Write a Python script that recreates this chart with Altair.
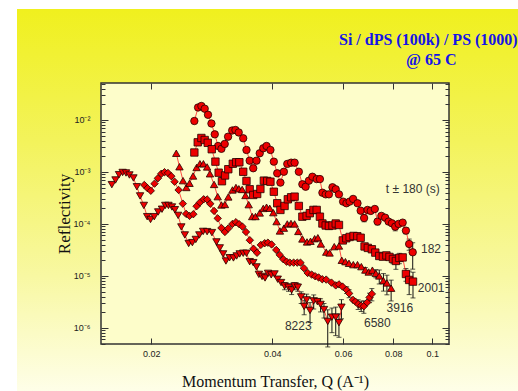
import altair as alt
import pandas as pd

# ---------------- data ----------------
series_names = ["182", "2001", "3916", "6580", "8223"]
series_shapes = ["circle", "square", "triangle-up", "diamond", "triangle-down"]

q_182 = [0.0256, 0.02615, 0.02665, 0.02716, 0.02768, 0.02823, 0.02877, 0.02933, 0.02989, 0.03046,
         0.03105, 0.03179, 0.03239, 0.0330, 0.03386, 0.0345, 0.03514, 0.03586, 0.03654, 0.03722,
         0.03798, 0.0387, 0.03957, 0.04035, 0.04114, 0.0419, 0.04274, 0.04358, 0.04455, 0.04545,
         0.04656, 0.04751, 0.04841, 0.04932, 0.05032, 0.05157, 0.05253, 0.05329, 0.0543, 0.05531,
         0.05645, 0.05751, 0.05858, 0.05999, 0.06115, 0.06228, 0.06353, 0.06514, 0.06634, 0.06766,
         0.06899, 0.07026, 0.07193, 0.07306, 0.07469, 0.07634, 0.07784, 0.07934, 0.08085, 0.08243,
         0.08437, 0.08596, 0.08756, 0.08936]
r_182 = [9.56e-3, 1.74e-2, 1.86e-2, 1.65e-2, 1.26e-2, 8.56e-3, 5.3e-3, 3.16e-3, 2.79e-3, 3.46e-3,
         4.77e-3, 6.28e-3, 6.42e-3, 5.76e-3, 4.45e-3, 2.65e-3, 1.65e-3, 1.18e-3, 1.65e-3, 2.29e-3,
         2.86e-3, 3.16e-3, 2.65e-3, 1.58e-3, 9.44e-4, 6.24e-4, 1.01e-3, 1.43e-3, 1.51e-3, 1.51e-3,
         1.01e-3, 5.8e-4, 5.2e-4, 6.8e-4, 8.1e-4, 7.3e-4, 7.3e-4, 3.99e-4, 3.71e-4, 3.71e-4,
         5.08e-4, 4.65e-4, 3.71e-4, 2.69e-4, 2.5e-4, 2.69e-4, 3.03e-4, 2.5e-4, 1.8e-4, 1.3e-4,
         1.86e-4, 1.78e-4, 1.94e-4, 1.11e-4, 1.43e-4, 1.32e-4, 1.11e-4, 1.03e-4, 8.87e-5, 1.0e-4,
         1.06e-4, 7.44e-5, 4.12e-5, 2.85e-5]
err_idx_182 = [50, 54, 59, 62, 63, 64]
err_val_182 = [2e-5, 1.5e-5, 1.5e-5, 1e-5, 1e-5, 1.5e-5]

q_2001 = [0.0256, 0.0261, 0.02665, 0.02716, 0.02764, 0.02828, 0.02888, 0.02942, 0.02998, 0.03052,
          0.03109, 0.0319, 0.03252, 0.03312, 0.03386, 0.0345, 0.03514, 0.03586, 0.03668, 0.03736,
          0.03811, 0.03885, 0.03957, 0.04035, 0.04114, 0.0419, 0.04291, 0.04372, 0.04455, 0.04545,
          0.04656, 0.04751, 0.04869, 0.04959, 0.05062, 0.05157, 0.05253, 0.05329, 0.0543, 0.05531,
          0.05645, 0.05751, 0.05858, 0.05989, 0.06109, 0.06228, 0.06369, 0.06508, 0.06634, 0.06783,
          0.06912, 0.07073, 0.07214, 0.07379, 0.07535, 0.07687, 0.07823, 0.0798, 0.08117, 0.08277,
          0.08437, 0.08596, 0.08756, 0.08951]
r_2001 = [2.37e-3, 3.72e-3, 4.51e-3, 4.12e-3, 3.64e-3, 2.74e-3, 1.58e-3, 9.69e-4, 6.64e-4, 8.57e-4,
          1.13e-3, 1.44e-3, 1.54e-3, 1.54e-3, 1.01e-3, 6.71e-4, 4.65e-4, 3.61e-4, 3.77e-4, 4.71e-4,
          6.81e-4, 6.71e-4, 6.5e-4, 4.17e-4, 2.5e-4, 1.86e-4, 2.22e-4, 2.98e-4, 3.26e-4, 3.35e-4,
          2.22e-4, 1.38e-4, 1.43e-4, 1.61e-4, 1.86e-4, 1.86e-4, 1.38e-4, 1.02e-4, 9.35e-5, 9.15e-5,
          9.35e-5, 1.02e-4, 9.56e-5, 4.82e-5, 5.3e-5, 5.62e-5, 5.88e-5, 5.8e-5, 5.43e-5, 3.69e-5,
          3.46e-5, 3.26e-5, 2.81e-5, 2.42e-5, 2.35e-5, 2.48e-5, 2.32e-5, 2.12e-5, 1.94e-5, 2.22e-5,
          2.27e-5, 1.09e-5, 8.37e-6, 7.77e-6]
err_idx_2001 = [56, 58, 59, 60, 62, 63, 64]
err_val_2001 = [3e-6, 4e-6, 6e-6, 5e-6, 3e-6, 4e-6, 4e-6]

q_3916 = [0.02308, 0.02351, 0.02399, 0.02445, 0.0249, 0.02541, 0.02593, 0.02643, 0.02696, 0.02754,
          0.02799, 0.02866, 0.02926, 0.02989, 0.03049, 0.03109, 0.03184, 0.03248, 0.03303, 0.03366,
          0.0343, 0.03494, 0.03565, 0.03633, 0.03722, 0.03798, 0.0387, 0.03942, 0.04023, 0.04099,
          0.04178, 0.04274, 0.04358, 0.04451, 0.04545, 0.04642, 0.04751, 0.04879, 0.04978, 0.05097,
          0.05192, 0.05283, 0.05446, 0.05552, 0.05703, 0.05858, 0.05954, 0.06079, 0.06204, 0.0636,
          0.06514, 0.06659, 0.06813, 0.06946, 0.07094, 0.07236, 0.07379, 0.07557, 0.07709, 0.07898]
r_3916 = [2.29e-3, 1.26e-3, 6.81e-4, 5.03e-4, 6.06e-4, 8.37e-4, 1.22e-3, 1.44e-3, 1.44e-3, 1.25e-3,
          9.23e-4, 5.76e-4, 3.35e-4, 2.32e-4, 2.37e-4, 3.31e-4, 4.51e-4, 5.03e-4, 4.75e-4, 4.61e-4,
          3.53e-4, 2.35e-4, 1.39e-4, 1.39e-4, 1.63e-4, 1.99e-4, 2.1e-4, 2.0e-4, 1.65e-4, 1.11e-4,
          7.33e-5, 8.3e-5, 1.0e-4, 1.02e-4, 1.0e-4, 7.18e-5, 5.15e-5, 4.51e-5, 4.65e-5, 5.2e-5,
          5.43e-5, 4.12e-5, 2.87e-5, 2.77e-5, 3.66e-5, 3.77e-5, 2.0e-5, 1.88e-5, 1.75e-5, 1.65e-5,
          1.65e-5, 1.51e-5, 1.3e-5, 1.19e-5, 1.29e-5, 1.12e-5, 1.0e-5, 8.1e-6, 7.33e-6, 5.8e-6]
err_idx_3916 = [53, 56, 57, 58, 59, 60]
err_val_3916 = [1.5e-6, 2e-6, 3e-6, 3e-6, 3e-6, 2.5e-6]

q_6580 = [0.01922, 0.01958, 0.01995, 0.02038, 0.02078, 0.02118, 0.02158, 0.02201, 0.02243, 0.02286,
          0.02339, 0.02396, 0.02442, 0.0249, 0.02545, 0.02593, 0.02643, 0.027, 0.02754, 0.02804,
          0.02866, 0.02926, 0.02989, 0.03049, 0.03109, 0.03184, 0.03248, 0.03308, 0.03372, 0.0344,
          0.03517, 0.03592, 0.03665, 0.03746, 0.03829, 0.039, 0.03983, 0.04091, 0.04174, 0.04261,
          0.04341, 0.04422, 0.04519, 0.04615, 0.047, 0.04794, 0.04897, 0.05012, 0.05112, 0.05213,
          0.05324, 0.05446, 0.05612, 0.05751, 0.05858, 0.05978, 0.06121, 0.0621, 0.0635, 0.06438,
          0.06539, 0.06653, 0.06756, 0.06886, 0.0698, 0.07073]
r_6580 = [5.62e-4, 4.87e-4, 4.35e-4, 5.96e-4, 7.57e-4, 9.23e-4, 9.91e-4, 9.56e-4, 8.3e-4, 6.5e-4,
          4.51e-4, 2.46e-4, 1.56e-4, 1.43e-4, 1.54e-4, 2.19e-4, 2.59e-4, 2.98e-4, 2.96e-4, 2.45e-4,
          1.78e-4, 1.28e-4, 8.37e-5, 7.01e-5, 8.2e-5, 1.0e-4, 1.08e-4, 9.91e-5, 8.87e-5, 7.01e-5,
          4.87e-5, 3.33e-5, 2.79e-5, 3.95e-5, 4.26e-5, 4.36e-5, 4.03e-5, 3.16e-5, 2.54e-5, 2.09e-5,
          1.88e-5, 1.8e-5, 1.8e-5, 1.8e-5, 1.8e-5, 1.41e-5, 1.14e-5, 1.06e-5, 9.87e-6, 9.35e-6,
          8.64e-6, 8.5e-6, 7.44e-6, 6.57e-6, 6.87e-6, 6.24e-6, 5.38e-6, 4.61e-6, 3.46e-6, 3.2e-6,
          2.87e-6, 2.67e-6, 2.61e-6, 3.09e-6, 3.86e-6, 4.51e-6]
err_idx_6580 = [57, 58, 61, 62, 63, 65, 66]
err_val_6580 = [8e-7, 8e-7, 6e-7, 6e-7, 7e-7, 8e-7, 1.2e-6]

q_8223 = [0.01596, 0.0163, 0.01663, 0.01698, 0.01731, 0.01765, 0.01806, 0.01842, 0.01876, 0.01917,
          0.01954, 0.01992, 0.02035, 0.02081, 0.02127, 0.02167, 0.02207, 0.02252, 0.0229, 0.02333,
          0.02376, 0.02424, 0.02478, 0.02531, 0.02581, 0.02634, 0.02692, 0.02754, 0.02831, 0.02905,
          0.02961, 0.03018, 0.03067, 0.03132, 0.03202, 0.03261, 0.03318, 0.03386, 0.0345, 0.03514,
          0.03586, 0.03654, 0.03704, 0.03772, 0.03837, 0.03904, 0.03975, 0.04051, 0.04126, 0.04206,
          0.04291, 0.04388, 0.04468, 0.04545, 0.04629, 0.04718, 0.048, 0.04869, 0.04964, 0.0507,
          0.05178, 0.05273, 0.05377, 0.05494, 0.05628, 0.05751, 0.05858, 0.05942]
r_8223 = [5.7e-4, 7.01e-4, 8.87e-4, 9.78e-4, 9.56e-4, 8.75e-4, 7.66e-4, 5.2e-4, 3.46e-4, 2.27e-4,
          1.38e-4, 1.22e-4, 1.38e-4, 1.7e-4, 1.92e-4, 2.27e-4, 2.27e-4, 2.12e-4, 1.88e-4, 1.46e-4,
          8.75e-5, 6.14e-5, 4.21e-5, 4.37e-5, 5.03e-5, 6.14e-5, 7.18e-5, 7.11e-5, 6.81e-5, 4.51e-5,
          3.46e-5, 2.65e-5, 1.94e-5, 2.24e-5, 2.22e-5, 2.42e-5, 2.65e-5, 2.73e-5, 2.73e-5, 1.88e-5,
          1.8e-5, 1.49e-5, 1.07e-5, 9.78e-6, 9.15e-6, 1.12e-5, 1.05e-5, 1.09e-5, 8.64e-6, 7.44e-6,
          6.42e-6, 6.06e-6, 5.38e-6, 6.42e-6, 6.06e-6, 3.95e-6, 2.59e-6, 3.46e-6, 2.17e-6, 3.31e-6,
          3.2e-6, 2.83e-6, 2.25e-6, 1.33e-6, 1.61e-6, 1.61e-6, 1.26e-6, 2.5e-6]
err_idx_8223 = [51, 52, 53, 54, 55, 56, 57, 58, 59, 60, 62, 63, 64, 65, 66, 67, 68]
err_val_8223 = [1e-6, 1e-6, 1e-6, 1e-6, 1e-6, 1e-6, 8e-7, 1e-6, 9e-7, 1e-6, 8e-7, 7e-7, 9e-7,
                8e-7, 9e-7, 6e-7, 1e-6]

ann_text = ["t \u00b1 180 (s)", "182", "2001", "3916", "6580", "8223"]
ann_q = [0.0766, 0.0937, 0.0920, 0.0769, 0.0676, 0.0430]
ann_r = [4.71e-4, 3.26e-5, 5.8e-6, 2.39e-6, 1.26e-6, 1.09e-6]

x_ticks = [0.02, 0.04, 0.06, 0.08, 0.1]
y_ticks = [1e-6, 1e-5, 1e-4, 1e-3, 1e-2]
y_minor = [m * d for d in [1e-7, 1e-6, 1e-5, 1e-4, 1e-3, 1e-2] for m in range(2, 10)]
y_minor = [v for v in y_minor if 4.9e-7 < v < 0.051]

# ---------------- tables ----------------
all_series = [
    ("182", q_182, r_182, err_idx_182, err_val_182),
    ("2001", q_2001, r_2001, err_idx_2001, err_val_2001),
    ("3916", q_3916, r_3916, err_idx_3916, err_val_3916),
    ("6580", q_6580, r_6580, err_idx_6580, err_val_6580),
    ("8223", q_8223, r_8223, err_idx_8223, err_val_8223),
]
rows, erows = [], []
for name, qs, rs, eidx, evals in all_series:
    ed = dict(zip(eidx, evals))
    for i, (q, r) in enumerate(zip(qs, rs)):
        rows.append({"series": name, "Q": q, "R": r})
        if (i + 1) in ed:
            e = ed[i + 1]
            erows.append({"series": name, "Q": q, "lo": r - e, "hi": r + e})
df = pd.DataFrame(rows)
edf = pd.DataFrame(erows)
adf = pd.DataFrame({"label": ann_text, "Q": ann_q, "R": ann_r})

W, H = 348, 261
xscale = alt.Scale(type="log", domain=[0.015, 0.11], nice=False)
yscale = alt.Scale(type="log", domain=[4.9e-7, 0.0515], nice=False)

one = alt.Data(values=[{"a": 1}])

grad = alt.LinearGradient(
    gradient="linear",
    stops=[alt.GradientStop(color="#f0f01e", offset=0),
           alt.GradientStop(color="#f3f35c", offset=0.35),
           alt.GradientStop(color="#f8f8a2", offset=0.7),
           alt.GradientStop(color="#fefee8", offset=1)],
    x1=0, x2=0, y1=0, y2=1)

bg = alt.Chart(one).mark_rect(fill=grad, stroke=None).encode(
    x=alt.value(-84), x2=alt.value(417), y=alt.value(-74), y2=alt.value(308))

plotbg = alt.Chart(one).mark_rect(fill="#fdfdca", stroke="#333333", strokeWidth=1.5).encode(
    x=alt.value(0), x2=alt.value(W), y=alt.value(0), y2=alt.value(H))

err_rule = alt.Chart(edf).mark_rule(color="#111111", strokeWidth=1).encode(
    x=alt.X("Q:Q", scale=xscale, axis=None),
    y=alt.Y("lo:Q", scale=yscale, axis=None),
    y2="hi:Q")
err_lo = alt.Chart(edf).mark_tick(color="#111111", orient="horizontal", size=5, thickness=1).encode(
    x=alt.X("Q:Q", scale=xscale, axis=None),
    y=alt.Y("lo:Q", scale=yscale, axis=None))
err_hi = alt.Chart(edf).mark_tick(color="#111111", orient="horizontal", size=5, thickness=1).encode(
    x=alt.X("Q:Q", scale=xscale, axis=None),
    y=alt.Y("hi:Q", scale=yscale, axis=None))

lines = alt.Chart(df).mark_line(color="#ff2020", strokeWidth=0.8).encode(
    x=alt.X("Q:Q", scale=xscale, axis=None),
    y=alt.Y("R:Q", scale=yscale, axis=None),
    detail="series:N",
    order="Q:Q")

points = alt.Chart(df).mark_point(filled=True, fill="#ee0000", stroke="#220000",
                                  strokeWidth=0.8, size=55, opacity=1).encode(
    x=alt.X("Q:Q", scale=xscale, axis=None),
    y=alt.Y("R:Q", scale=yscale, axis=None),
    shape=alt.Shape("series:N", scale=alt.Scale(domain=series_names, range=series_shapes),
                    legend=None))

ann = alt.Chart(adf).mark_text(align="left", baseline="middle", font="Liberation Sans",
                               fontSize=12, color="#333333").encode(
    x=alt.X("Q:Q", scale=xscale, axis=None),
    y=alt.Y("R:Q", scale=yscale, axis=None),
    text="label:N")

title1 = alt.Chart(one).mark_text(text="Si / dPS (100k) / PS (1000)", align="left",
                                  baseline="middle", font="Liberation Serif", fontSize=16,
                                  fontWeight="bold", color="#1414e6").encode(
    x=alt.value(238), y=alt.value(-43.5))
title2 = alt.Chart(one).mark_text(text="@ 65 C", align="left", baseline="middle",
                                  font="Liberation Serif", fontSize=16, fontWeight="bold",
                                  color="#1414e6").encode(
    x=alt.value(305), y=alt.value(-23))

ylab = ("datum.value > 0.005 ? '10\u207b\u00b2' : datum.value > 0.0005 ? '10\u207b\u00b3' : "
        "datum.value > 0.00005 ? '10\u207b\u2074' : datum.value > 0.000005 ? '10\u207b\u2075' : '10\u207b\u2076'")

common = dict(domain=False, grid=False, tickColor="#333333", tickWidth=1, zindex=2)

axis_main = alt.Chart(df).mark_point(opacity=0).encode(
    x=alt.X("Q:Q", scale=xscale, axis=alt.Axis(
        orient="bottom", values=x_ticks, format="~g", tickSize=6, offset=-6,
        labelPadding=5, labelFont="Liberation Sans", labelFontSize=9, labelColor="#222222",
        title="Momentum Transfer, Q (A\u207b\u00b9)", titleFont="Liberation Serif",
        titleFontSize=16, titleFontWeight="normal", titleColor="#111111",
        titleX=W / 2, titleY=43, titleBaseline="middle", **common)),
    y=alt.Y("R:Q", scale=yscale, axis=alt.Axis(
        orient="left", values=y_ticks, labelExpr=ylab, tickSize=7, offset=-7,
        labelPadding=11, labelFont="Liberation Sans", labelFontSize=9, labelColor="#222222",
        title="Reflectivity", titleFont="Liberation Serif", titleFontSize=17,
        titleFontWeight="normal", titleColor="#111111", titleX=-44, titleY=H / 2,
        titleBaseline="middle", **common)))

axis_mirror = alt.Chart(df).mark_point(opacity=0).encode(
    x=alt.X("Q:Q", scale=xscale, axis=alt.Axis(
        orient="top", values=x_ticks, labels=False, title=None, tickSize=6, offset=-6, **common)),
    y=alt.Y("R:Q", scale=yscale, axis=alt.Axis(
        orient="right", values=y_ticks, labels=False, title=None, tickSize=7, offset=-7, **common)))

axis_minor_l = alt.Chart(df).mark_point(opacity=0).encode(
    x=alt.X("Q:Q", scale=xscale, axis=None),
    y=alt.Y("R:Q", scale=yscale, axis=alt.Axis(
        orient="left", values=y_minor, labels=False, title=None, tickSize=4, offset=-4, **common)))

axis_minor_r = alt.Chart(df).mark_point(opacity=0).encode(
    x=alt.X("Q:Q", scale=xscale, axis=None),
    y=alt.Y("R:Q", scale=yscale, axis=alt.Axis(
        orient="right", values=y_minor, labels=False, title=None, tickSize=4, offset=-4, **common)))

chart = alt.layer(
    bg, plotbg, err_rule, err_lo, err_hi, lines, points, ann, title1, title2,
    axis_main, axis_mirror, axis_minor_l, axis_minor_r
).resolve_axis(x="independent", y="independent").properties(
    width=W, height=H,
    autosize=alt.AutoSizeParams(type="none"),
    padding={"left": 101, "top": 83, "right": 69, "bottom": 47},
    background="white",
).configure_view(stroke=None)

chart.save("out.html", embed_options={"renderer": "svg", "actions": False})
